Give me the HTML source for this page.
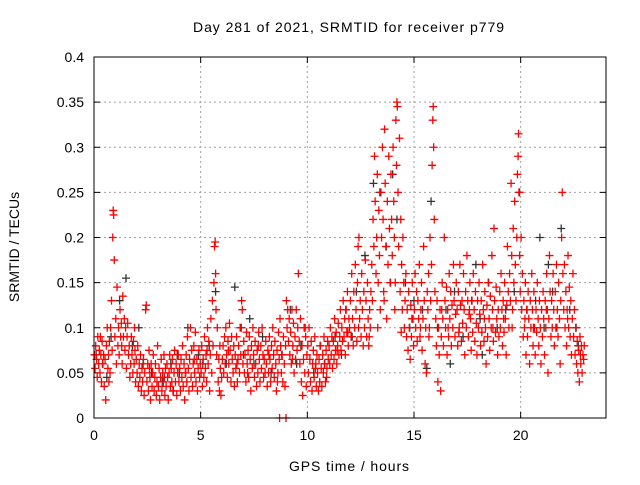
<!DOCTYPE html>
<html><head><meta charset="utf-8"><style>
body{margin:0;background:#fff}
svg text{font-family:"Liberation Sans",sans-serif;font-size:14px;fill:#000}
</style></head><body>
<svg id="chart" width="640" height="480" xmlns="http://www.w3.org/2000/svg">
<text x="193" y="32" textLength="311" lengthAdjust="spacing">Day 281 of 2021, SRMTID for receiver p779</text>
<text x="289" y="471" textLength="120" lengthAdjust="spacing">GPS time / hours</text>
<text transform="translate(19,247) rotate(-90)" text-anchor="middle">SRMTID / TECUs</text>
<g id="grid"></g>
<g id="ticks"></g>
<g id="marks"></g>
<rect x="94" y="57" width="512" height="361" fill="none" stroke="#000" stroke-width="1"/>
</svg>
<script>
const xTicks=[0,5,10,15,20];
const yTicks=[0,0.05,0.1,0.15,0.2,0.25,0.3,0.35,0.4];
const yTickLabels=["0","0.05","0.1","0.15","0.2","0.25","0.3","0.35","0.4"];
const blackPoints=[[0.1,0.07],[0.4,0.06],[0.8,0.09],[1.2,0.13],[1.5,0.155],[1.8,0.08],[2.3,0.06],[2.7,0.05],[3.2,0.04],[3.6,0.06],[4.0,0.05],[4.4,0.1],[4.9,0.07],[5.4,0.08],[5.7,0.14],[6.2,0.06],[6.6,0.145],[7.0,0.07],[7.5,0.06],[7.9,0.09],[8.3,0.05],[8.8,0.07],[9.2,0.12],[9.7,0.08],[10.3,0.05],[10.8,0.06],[11.3,0.09],[11.8,0.12],[12.3,0.14],[12.7,0.18],[13.1,0.26],[13.4,0.25],[13.7,0.19],[14.0,0.27],[14.2,0.22],[14.6,0.15],[15.0,0.13],[15.4,0.12],[15.8,0.24],[16.1,0.1],[16.5,0.12],[16.9,0.14],[17.3,0.09],[17.7,0.13],[18.1,0.11],[18.5,0.15],[18.9,0.1],[19.3,0.12],[19.7,0.14],[19.95,0.25],[20.3,0.12],[20.7,0.13],[21.1,0.1],[21.5,0.14],[21.9,0.21],[22.3,0.12],[22.7,0.08],[15.6,0.055],[16.7,0.06],[18.2,0.07],[20.9,0.2],[13.9,0.15],[12.1,0.09],[14.8,0.1],[3.9,0.07],[6.9,0.1],[9.5,0.06],[0.6,0.045],[2.1,0.1],[5.1,0.06],[7.3,0.11],[10.6,0.08],[11.6,0.07],[17.9,0.17],[21.3,0.17],[22.6,0.1]];
const redPoints=[
[0.02,0.07],[0.05,0.055],[0.08,0.08],[0.12,0.065],[0.15,0.045],[0.18,0.09],[0.22,0.06],[0.25,0.075],[0.28,0.05],[0.32,0.07],[0.35,0.04],[0.38,0.085],[0.42,0.06],[0.45,0.07],[0.48,0.035],[0.52,0.065],[0.55,0.02],[0.58,0.08],[0.62,0.1],[0.65,0.055],[0.68,0.07],[0.72,0.085],[0.75,0.05],[0.78,0.1],[0.82,0.13],[0.85,0.075],[0.88,0.2],[0.9,0.23],[0.92,0.225],[0.95,0.175],[0.98,0.09],[1.02,0.11],[1.05,0.06],[1.08,0.145],[1.12,0.08],[1.15,0.1],[1.18,0.07],[1.22,0.12],[1.25,0.09],[1.28,0.105],[1.32,0.06],[1.35,0.135],[1.38,0.09],[1.42,0.11],[1.45,0.075],[1.48,0.1],[1.52,0.055],[1.55,0.09],[1.58,0.105],[1.62,0.07],[1.65,0.08],[1.68,0.045],[1.72,0.06],[1.75,0.09],[1.78,0.07],[1.82,0.05],[1.85,0.085],[1.88,0.06],[1.92,0.075],[1.95,0.04],[1.98,0.065],
[2.02,0.05],[2.05,0.08],[2.08,0.035],[2.12,0.06],[2.15,0.045],[2.18,0.07],[2.22,0.03],[2.25,0.055],[2.28,0.04],[2.32,0.065],[2.35,0.025],[2.38,0.05],[2.42,0.12],[2.45,0.125],[2.48,0.04],[2.52,0.06],[2.55,0.03],[2.58,0.075],[2.62,0.045],[2.65,0.02],[2.68,0.06],[2.72,0.035],[2.75,0.05],[2.78,0.07],[2.82,0.03],[2.85,0.045],[2.88,0.06],[2.92,0.025],[2.95,0.04],[2.98,0.08],[3.02,0.035],[3.05,0.055],[3.08,0.02],[3.12,0.045],[3.15,0.065],[3.18,0.03],[3.22,0.05],[3.25,0.04],[3.28,0.07],[3.32,0.025],[3.35,0.055],[3.38,0.035],[3.42,0.06],[3.45,0.045],[3.48,0.02],[3.52,0.05],[3.55,0.07],[3.58,0.035],[3.62,0.055],[3.65,0.04],[3.68,0.065],[3.72,0.03],[3.75,0.05],[3.78,0.075],[3.82,0.04],[3.85,0.06],[3.88,0.025],[3.92,0.05],[3.95,0.07],[3.98,0.04],
[4.02,0.055],[4.05,0.03],[4.08,0.065],[4.12,0.045],[4.15,0.08],[4.18,0.035],[4.22,0.06],[4.25,0.02],[4.28,0.05],[4.32,0.07],[4.35,0.04],[4.38,0.09],[4.42,0.055],[4.45,0.03],[4.48,0.065],[4.52,0.1],[4.55,0.045],[4.58,0.075],[4.62,0.035],[4.65,0.06],[4.68,0.08],[4.72,0.05],[4.75,0.095],[4.78,0.04],[4.82,0.065],[4.85,0.03],[4.88,0.055],[4.92,0.075],[4.95,0.045],[4.98,0.06],
[5.02,0.05],[5.05,0.08],[5.08,0.035],[5.12,0.065],[5.15,0.045],[5.18,0.09],[5.22,0.055],[5.25,0.07],[5.28,0.04],[5.32,0.1],[5.35,0.06],[5.38,0.085],[5.42,0.03],[5.45,0.07],[5.48,0.11],[5.52,0.05],[5.55,0.13],[5.58,0.08],[5.62,0.15],[5.65,0.19],[5.68,0.195],[5.7,0.16],[5.72,0.12],[5.75,0.07],[5.78,0.1],[5.82,0.04],[5.85,0.065],[5.88,0.03],[5.92,0.055],[5.95,0.025],[5.98,0.045],
[6.02,0.065],[6.05,0.08],[6.08,0.05],[6.12,0.09],[6.15,0.06],[6.18,0.1],[6.22,0.07],[6.25,0.045],[6.28,0.085],[6.32,0.06],[6.35,0.105],[6.38,0.075],[6.42,0.04],[6.45,0.09],[6.48,0.065],[6.52,0.05],[6.55,0.08],[6.58,0.035],[6.62,0.07],[6.65,0.055],[6.68,0.09],[6.72,0.04],[6.75,0.065],[6.78,0.08],[6.82,0.05],[6.85,0.1],[6.88,0.07],[6.92,0.13],[6.95,0.12],[6.98,0.06],
[7.02,0.085],[7.05,0.05],[7.08,0.07],[7.12,0.04],[7.15,0.095],[7.18,0.06],[7.22,0.075],[7.25,0.045],[7.28,0.09],[7.32,0.065],[7.35,0.03],[7.38,0.08],[7.42,0.055],[7.45,0.1],[7.48,0.07],[7.52,0.045],[7.55,0.085],[7.58,0.06],[7.62,0.035],[7.65,0.075],[7.68,0.05],[7.72,0.095],[7.75,0.065],[7.78,0.04],[7.82,0.08],[7.85,0.055],[7.88,0.1],[7.92,0.07],[7.95,0.045],[7.98,0.065],
[8.02,0.05],[8.05,0.085],[8.08,0.06],[8.12,0.035],[8.15,0.075],[8.18,0.05],[8.22,0.09],[8.25,0.065],[8.28,0.04],[8.32,0.08],[8.35,0.055],[8.38,0.1],[8.42,0.07],[8.45,0.045],[8.48,0.085],[8.52,0.06],[8.55,0.03],[8.58,0.075],[8.62,0.05],[8.65,0.095],[8.68,0.065],[8.72,0.11],[8.75,0.08],[8.78,0.05],[8.82,0.07],[8.85,0.04],[8.88,0.09],[8.92,0.06],[8.95,0.035],[8.98,0.08],
[8.7,0.0],[9.0,0.0],
[9.02,0.13],[9.05,0.1],[9.08,0.12],[9.12,0.085],[9.15,0.11],[9.18,0.07],[9.22,0.095],[9.25,0.06],[9.28,0.12],[9.32,0.08],[9.35,0.105],[9.38,0.05],[9.42,0.09],[9.45,0.065],[9.48,0.12],[9.52,0.075],[9.55,0.1],[9.58,0.16],[9.62,0.085],[9.65,0.06],[9.68,0.11],[9.72,0.04],[9.75,0.08],[9.78,0.025],[9.82,0.065],[9.85,0.1],[9.88,0.05],[9.92,0.09],[9.95,0.035],[9.98,0.07],
[10.02,0.08],[10.05,0.05],[10.08,0.1],[10.12,0.065],[10.15,0.04],[10.18,0.085],[10.22,0.03],[10.25,0.06],[10.28,0.075],[10.32,0.045],[10.35,0.09],[10.38,0.055],[10.42,0.035],[10.45,0.07],[10.48,0.05],[10.52,0.03],[10.55,0.065],[10.58,0.04],[10.62,0.08],[10.65,0.055],[10.68,0.035],[10.72,0.07],[10.75,0.05],[10.78,0.09],[10.82,0.06],[10.85,0.04],[10.88,0.075],[10.92,0.055],[10.95,0.085],[10.98,0.065],
[11.02,0.08],[11.05,0.06],[11.08,0.1],[11.12,0.07],[11.15,0.09],[11.18,0.055],[11.22,0.085],[11.25,0.065],[11.28,0.11],[11.32,0.075],[11.35,0.095],[11.38,0.06],[11.42,0.08],[11.45,0.105],[11.48,0.07],[11.52,0.09],[11.55,0.12],[11.58,0.075],[11.62,0.1],[11.65,0.085],[11.68,0.13],[11.72,0.09],[11.75,0.11],[11.78,0.07],[11.82,0.12],[11.85,0.095],[11.88,0.14],[11.92,0.08],[11.95,0.11],[11.98,0.1],
[12.02,0.13],[12.05,0.09],[12.08,0.16],[12.12,0.11],[12.15,0.08],[12.18,0.14],[12.22,0.1],[12.25,0.17],[12.28,0.12],[12.32,0.085],[12.35,0.15],[12.38,0.19],[12.42,0.2],[12.45,0.11],[12.48,0.13],[12.52,0.09],[12.55,0.16],[12.58,0.12],[12.62,0.08],[12.65,0.14],[12.68,0.1],[12.72,0.175],[12.75,0.13],[12.78,0.09],[12.82,0.15],[12.85,0.11],[12.88,0.08],[12.92,0.12],[12.95,0.1],[12.98,0.14],
[13.02,0.17],[13.05,0.13],[13.08,0.22],[13.12,0.19],[13.15,0.29],[13.18,0.24],[13.22,0.16],[13.25,0.2],[13.28,0.27],[13.32,0.15],[13.35,0.23],[13.38,0.18],[13.42,0.12],[13.45,0.25],[13.48,0.2],[13.52,0.3],[13.55,0.22],[13.58,0.14],[13.62,0.32],[13.65,0.26],[13.68,0.19],[13.72,0.11],[13.75,0.24],[13.78,0.17],[13.82,0.29],[13.85,0.21],[13.88,0.15],[13.92,0.27],[13.95,0.22],[13.98,0.18],
[14.02,0.3],[14.05,0.24],[14.08,0.2],[14.12,0.15],[14.15,0.33],[14.18,0.28],[14.2,0.35],[14.22,0.345],[14.25,0.25],[14.28,0.19],[14.32,0.31],[14.35,0.14],[14.38,0.22],[14.42,0.17],[14.45,0.12],[14.48,0.2],[14.52,0.15],[14.55,0.1],[14.58,0.13],[14.62,0.16],[14.65,0.09],[14.68,0.12],[14.72,0.075],[14.75,0.14],[14.78,0.1],[14.82,0.065],[14.85,0.125],[14.88,0.09],[14.92,0.15],[14.95,0.11],[14.98,0.08],
[15.02,0.12],[15.05,0.16],[15.08,0.1],[15.12,0.14],[15.15,0.085],[15.18,0.13],[15.22,0.11],[15.25,0.17],[15.28,0.09],[15.32,0.12],[15.35,0.15],[15.38,0.075],[15.42,0.11],[15.45,0.19],[15.48,0.13],[15.52,0.06],[15.55,0.1],[15.58,0.05],[15.62,0.14],[15.65,0.12],[15.68,0.16],[15.72,0.1],[15.75,0.2],[15.78,0.13],[15.82,0.17],[15.85,0.28],[15.88,0.33],[15.9,0.345],[15.92,0.3],[15.95,0.22],[15.98,0.14],
[16.02,0.11],[16.05,0.08],[16.08,0.13],[16.12,0.04],[16.15,0.1],[16.18,0.07],[16.22,0.12],[16.25,0.03],[16.28,0.09],[16.32,0.15],[16.35,0.11],[16.38,0.08],[16.42,0.2],[16.45,0.13],[16.48,0.1],[16.52,0.145],[16.55,0.07],[16.58,0.12],[16.62,0.09],[16.65,0.16],[16.68,0.11],[16.72,0.14],[16.75,0.08],[16.78,0.125],[16.82,0.1],[16.85,0.17],[16.88,0.13],[16.92,0.09],[16.95,0.115],[16.98,0.15],
[17.02,0.12],[17.05,0.08],[17.08,0.14],[17.12,0.1],[17.15,0.17],[17.18,0.125],[17.22,0.085],[17.25,0.13],[17.28,0.105],[17.32,0.16],[17.35,0.12],[17.38,0.07],[17.42,0.14],[17.45,0.1],[17.48,0.18],[17.52,0.13],[17.55,0.09],[17.58,0.115],[17.62,0.15],[17.65,0.11],[17.68,0.075],[17.72,0.13],[17.75,0.095],[17.78,0.16],[17.82,0.12],[17.85,0.085],[17.88,0.14],[17.92,0.105],[17.95,0.07],[17.98,0.13],
[18.02,0.1],[18.05,0.15],[18.08,0.115],[18.12,0.08],[18.15,0.13],[18.18,0.095],[18.22,0.17],[18.25,0.12],[18.28,0.085],[18.32,0.14],[18.35,0.1],[18.38,0.06],[18.42,0.125],[18.45,0.09],[18.48,0.15],[18.52,0.11],[18.55,0.075],[18.58,0.135],[18.62,0.1],[18.65,0.18],[18.68,0.12],[18.72,0.085],[18.75,0.21],[18.78,0.13],[18.82,0.095],[18.85,0.145],[18.88,0.11],[18.92,0.07],[18.95,0.12],[18.98,0.09],
[19.02,0.14],[19.05,0.1],[19.08,0.16],[19.12,0.12],[19.15,0.08],[19.18,0.13],[19.22,0.095],[19.25,0.15],[19.28,0.11],[19.32,0.07],[19.35,0.125],[19.38,0.19],[19.42,0.14],[19.45,0.1],[19.48,0.16],[19.52,0.13],[19.55,0.26],[19.58,0.18],[19.62,0.12],[19.65,0.21],[19.68,0.15],[19.72,0.24],[19.75,0.17],[19.78,0.13],[19.82,0.2],[19.85,0.27],[19.88,0.29],[19.9,0.315],[19.92,0.25],[19.95,0.18],[19.98,0.14],
[20.02,0.2],[20.05,0.12],[20.08,0.16],[20.12,0.09],[20.15,0.13],[20.18,0.1],[20.22,0.15],[20.25,0.07],[20.28,0.12],[20.32,0.09],[20.35,0.14],[20.38,0.11],[20.42,0.06],[20.45,0.13],[20.48,0.1],[20.52,0.16],[20.55,0.12],[20.58,0.08],[20.62,0.14],[20.65,0.1],[20.68,0.07],[20.72,0.12],[20.75,0.095],[20.78,0.15],[20.82,0.11],[20.85,0.08],[20.88,0.13],[20.92,0.1],[20.95,0.06],[20.98,0.12],
[21.02,0.09],[21.05,0.14],[21.08,0.11],[21.12,0.07],[21.15,0.13],[21.18,0.1],[21.22,0.16],[21.25,0.12],[21.28,0.05],[21.32,0.11],[21.35,0.18],[21.38,0.14],[21.42,0.09],[21.45,0.13],[21.48,0.1],[21.52,0.16],[21.55,0.12],[21.58,0.08],[21.62,0.14],[21.65,0.1],[21.68,0.17],[21.72,0.12],[21.75,0.09],[21.78,0.15],[21.82,0.11],[21.85,0.06],[21.88,0.13],[21.92,0.2],[21.95,0.25],[21.98,0.16],
[22.02,0.12],[22.05,0.17],[22.08,0.1],[22.12,0.14],[22.15,0.08],[22.18,0.12],[22.22,0.18],[22.25,0.1],[22.28,0.145],[22.32,0.09],[22.35,0.13],[22.38,0.07],[22.42,0.11],[22.45,0.16],[22.48,0.09],[22.52,0.12],[22.55,0.07],[22.58,0.1],[22.62,0.06],[22.65,0.085],[22.68,0.05],[22.72,0.075],[22.75,0.04],[22.78,0.09],[22.82,0.06],[22.85,0.08],[22.88,0.05],[22.92,0.07],[22.95,0.065],[22.98,0.08],
[0.3,0.09],[0.7,0.04],[1.3,0.08],[1.9,0.1],[2.6,0.055],[3.3,0.045],[3.7,0.03],[4.3,0.05],[4.7,0.065],[5.3,0.075],[5.9,0.08],[6.3,0.075],[6.7,0.06],[7.2,0.05],[7.7,0.08],[8.2,0.07],[8.6,0.04],[9.3,0.065],[9.9,0.1],[10.4,0.06],[10.9,0.045],[11.4,0.075],[11.9,0.095],[12.4,0.1],[12.9,0.09],[13.3,0.1],[13.6,0.13],[14.1,0.12],[14.4,0.095],[14.9,0.11],[15.3,0.1],[15.7,0.09],[16.3,0.12],[16.6,0.1],[17.1,0.095],[17.6,0.12],[18.3,0.11],[18.7,0.1],[19.2,0.11],[19.6,0.1],[20.2,0.11],[20.6,0.1],[21.2,0.12],[21.7,0.1],[22.2,0.11],[22.8,0.07]
];
const X0=94,X1=606,Y0=418,Y1=57,XMAX=24,YMAX=0.4;
function xs(v){return X0+(X1-X0)*v/XMAX;}
function ys(v){return Y0-(Y0-Y1)*v/YMAX;}
const NS="http://www.w3.org/2000/svg";
const grid=document.getElementById('grid'),ticks=document.getElementById('ticks'),marks=document.getElementById('marks');
function mk(tag,attrs,parent){const e=document.createElementNS(NS,tag);for(const k in attrs)e.setAttribute(k,attrs[k]);parent.appendChild(e);return e;}
xTicks.forEach(t=>{
  const x=xs(t);
  if(t>0){const g=mk('line',{x1:x,x2:x,y1:Y0,y2:Y1,stroke:'#a0a0a0','stroke-dasharray':'2,3'},grid);
  
  }
  const tk=mk('path',{d:`M${x},${Y0}v-6M${x},${Y1}v6`,stroke:'#000'},ticks);
  
  
  const lb=mk('text',{x:x,y:Y0+22,'text-anchor':'middle'},ticks);lb.textContent=String(t);
  
  
});
yTicks.forEach((t,i)=>{
  const y=ys(t);
  if(i>0&&i<yTicks.length-1){const g=mk('line',{x1:X0,x2:X1,y1:y,y2:y,stroke:'#a0a0a0','stroke-dasharray':'2,3'},grid);
  
  }
  const tk=mk('path',{d:`M${X0},${y}h6M${X1},${y}h-6`,stroke:'#000'},ticks);
  
  
  const lb=mk('text',{x:X0-10,y:y+5,'text-anchor':'end'},ticks);lb.textContent=yTickLabels[i];
  
  
});
function plus(p,color,name){
  const x=xs(p[0]),y=ys(p[1]);
  const e=mk('path',{d:`M${x-4},${y}h8M${x},${y-4}v8`,stroke:color,'stroke-width':1.3},marks);
  
  
}
blackPoints.forEach(p=>plus(p,'#333','black-point'));
redPoints.forEach(p=>plus(p,'#ff0000','red-point'));
</script>
</body></html>
